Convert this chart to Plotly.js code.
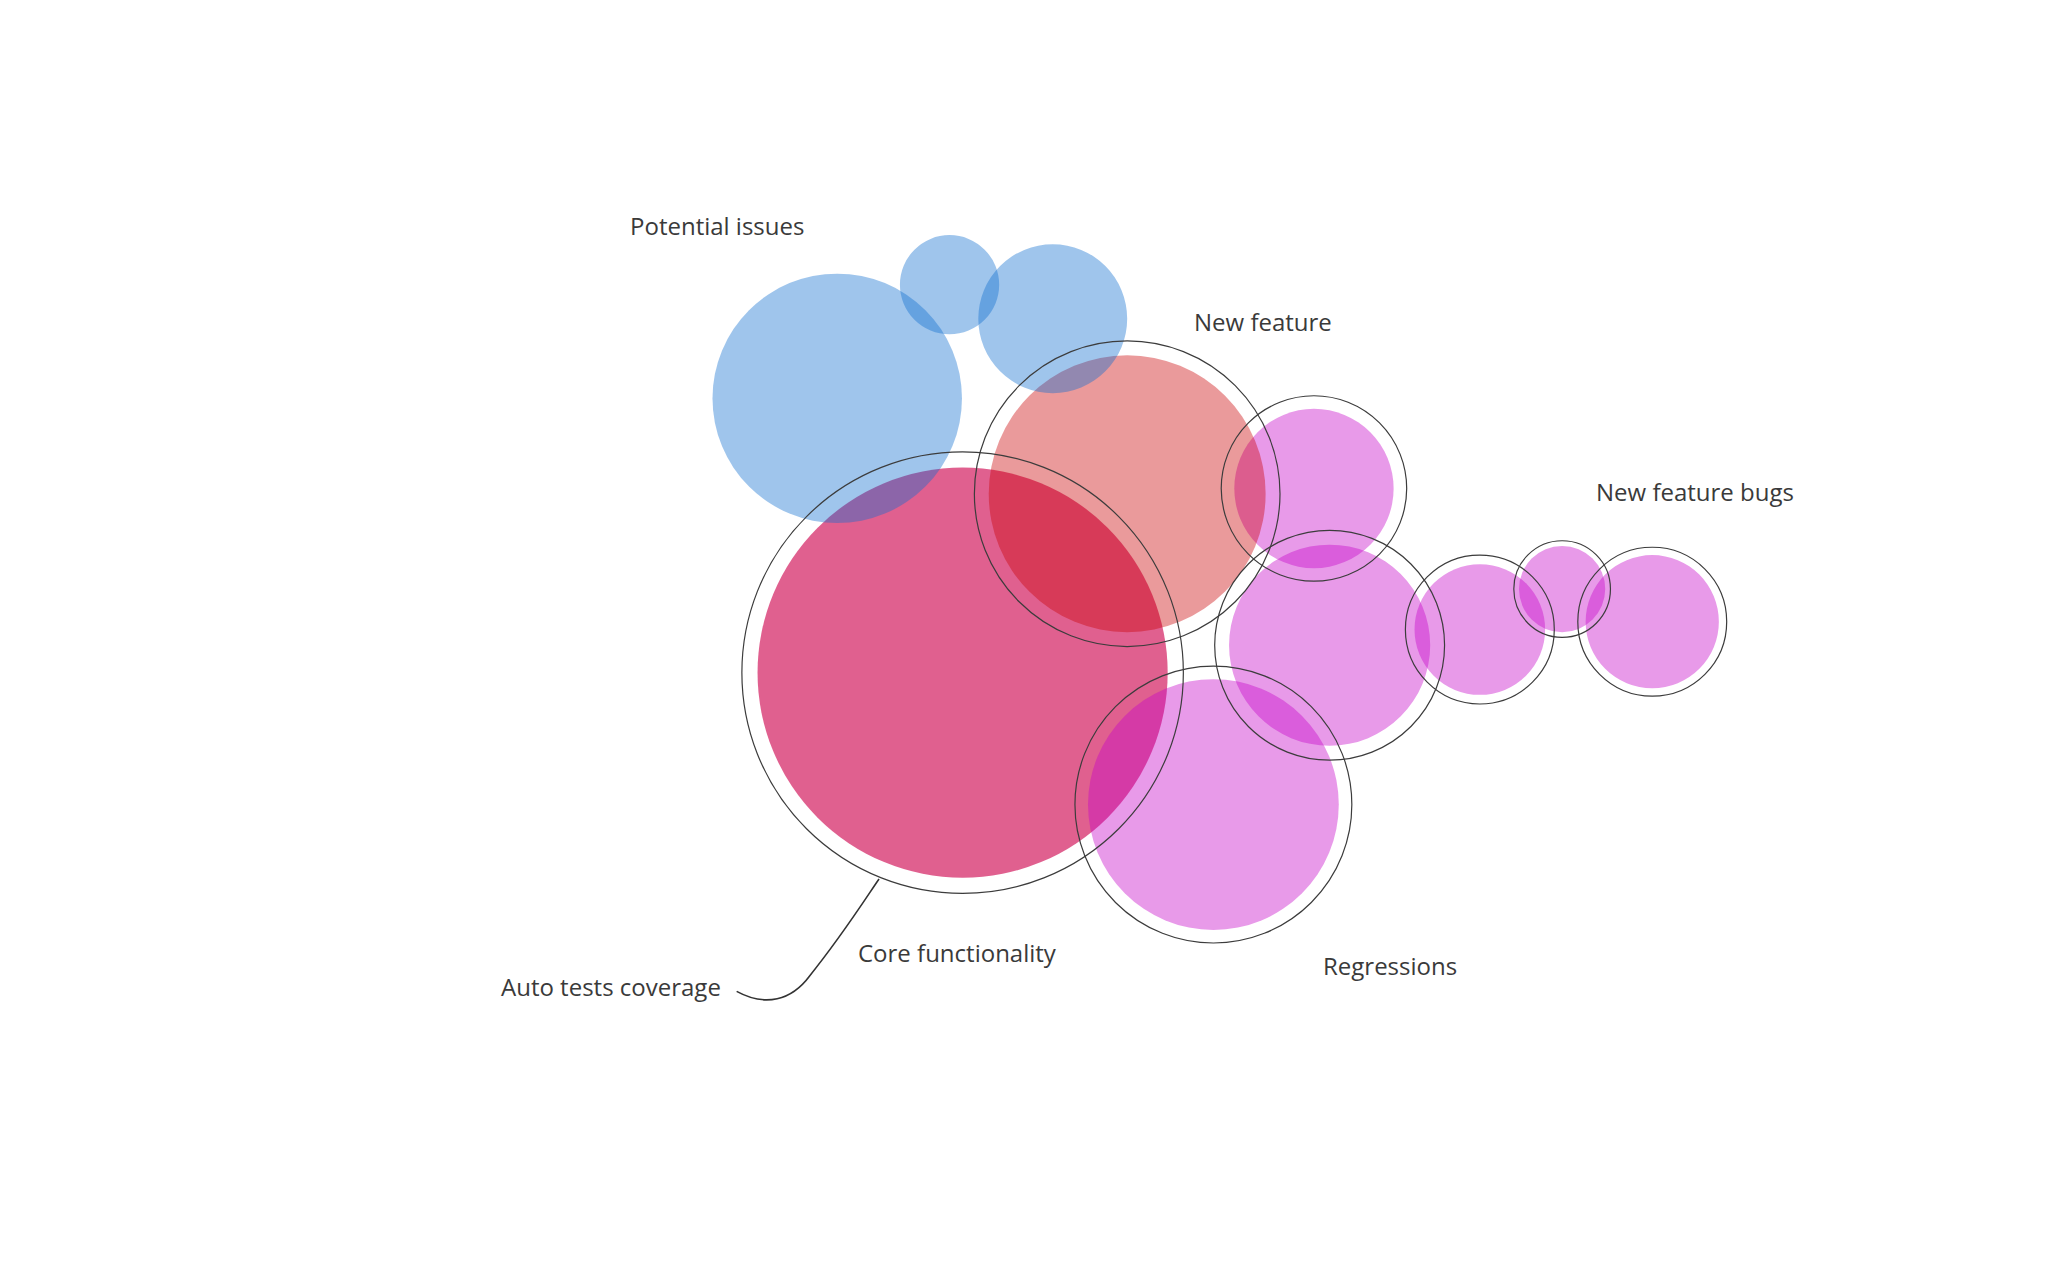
<!DOCTYPE html>
<html>
<head>
<meta charset="utf-8">
<script src="https://cdn.plot.ly/plotly-3.0.1.min.js"></script>
<style>html,body{margin:0;padding:0;background:#fff;}#chart{width:2048px;height:1280px;}</style>
</head>
<body>
<div id="chart"></div>
<script>
// ---- Data (abstract chart units) ----
const groups = ["Core functionality", "Regressions", "New feature", "Potential issues"];

// Core functionality bubble
const coreX = [73.7];
const coreY = [46.5];
const coreR = [15.7];
const coreRing = [16.9];

// Regressions / New feature bugs bubbles (magenta)
const bugX = [100.6, 101.8, 92.9, 113.3, 119.6, 126.5];
const bugY = [60.6, 48.6, 36.4, 49.8, 52.9, 50.4];
const bugR = [6.1, 7.7, 9.6, 5.0, 3.3, 5.1];
const bugRing = [7.1, 8.8, 10.6, 5.7, 3.7, 5.7];

// New feature bubble
const featX = [86.3];
const featY = [60.2];
const featR = [10.6];
const featRing = [11.7];

// Potential issues bubbles (blue)
const issueX = [64.1, 72.7, 80.6];
const issueY = [67.5, 76.2, 73.6];
const issueR = [9.55, 3.8, 5.7];

// Labels
const labelText = ["Potential issues", "New feature", "New feature bugs", "Core functionality", "Regressions", "Auto tests coverage"];
const labelX = [54.9, 96.7, 129.8, 73.3, 106.4, 46.8];
const labelY = [80.7, 73.4, 60.4, 25.1, 24.1, 22.5];

// Connector curve for "Auto tests coverage"
const connX = [56.4, 58.6, 60.6, 62.0, 64.5, 66.4, 67.3];
const connY = [22.1, 20.9, 21.4, 23.3, 26.4, 29.4, 30.7];

// ---- Styles ----
const colCore = "rgba(211,29,96,0.70)";
const colBug = "rgba(198,2,200,0.40)";
const colFeat = "rgba(203,2,5,0.40)";
const colIssue = "rgba(15,110,207,0.40)";
const ringCol = "#3c3c3c";

const shapes = [];
function fillCircle(x, y, r, col) {
  shapes.push({type: "circle", xref: "x", yref: "y", x0: x - r, x1: x + r, y0: y - r, y1: y + r,
    fillcolor: col, line: {width: 0}, layer: "above"});
}
function ringCircle(x, y, r) {
  shapes.push({type: "circle", xref: "x", yref: "y", x0: x - r, x1: x + r, y0: y - r, y1: y + r,
    fillcolor: "rgba(0,0,0,0)", line: {color: ringCol, width: 1.2}, layer: "above"});
}

coreX.forEach((x, i) => fillCircle(x, coreY[i], coreR[i], colCore));
bugX.forEach((x, i) => fillCircle(x, bugY[i], bugR[i], colBug));
featX.forEach((x, i) => fillCircle(x, featY[i], featR[i], colFeat));
issueX.forEach((x, i) => fillCircle(x, issueY[i], issueR[i], colIssue));
coreX.forEach((x, i) => ringCircle(x, coreY[i], coreRing[i]));
bugX.forEach((x, i) => ringCircle(x, bugY[i], bugRing[i]));
featX.forEach((x, i) => ringCircle(x, featY[i], featRing[i]));

// connector path
let p = `M ${connX[0]},${connY[0]} C ${connX[1]},${connY[1]} ${connX[2]},${connY[2]} ${connX[3]},${connY[3]} C ${connX[4]},${connY[4]} ${connX[5]},${connY[5]} ${connX[6]},${connY[6]}`;
shapes.push({type: "path", xref: "x", yref: "y", path: p, line: {color: "#333", width: 1.6}, layer: "above"});

const annotations = labelText.map((t, i) => ({
  x: labelX[i], y: labelY[i], xref: "x", yref: "y", text: t, showarrow: false,
  xanchor: "center", yanchor: "middle",
  font: {family: "Open Sans", size: 24, color: "#3a3a3a"}
}));

const data = [{x: [0], y: [0], mode: "markers", marker: {opacity: 0}, hoverinfo: "skip", showlegend: false}];

const layout = {
  width: 2048, height: 1280,
  margin: {l: 0, r: 0, t: 0, b: 0},
  paper_bgcolor: "#ffffff", plot_bgcolor: "#ffffff",
  xaxis: {range: [0, 156.8], visible: false, showgrid: false, zeroline: false, fixedrange: true},
  yaxis: {range: [0, 98], visible: false, showgrid: false, zeroline: false, fixedrange: true},
  shapes: shapes,
  annotations: annotations,
  showlegend: false
};

Plotly.newPlot("chart", data, layout, {displayModeBar: false, staticPlot: true});
</script>
</body>
</html>
